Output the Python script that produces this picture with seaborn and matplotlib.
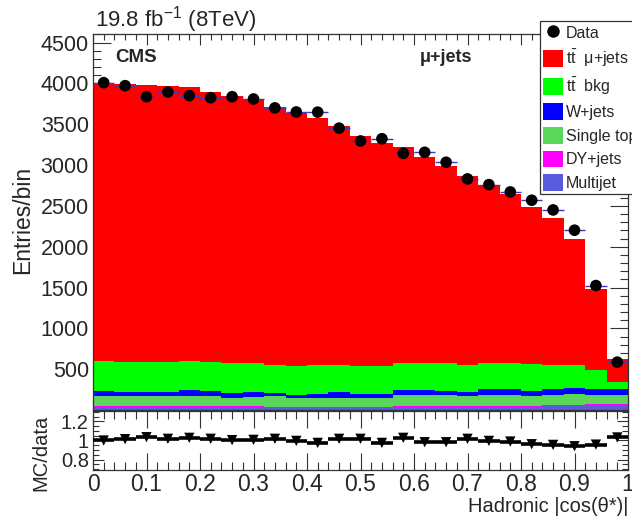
import numpy as np
import pandas as pd
import matplotlib
matplotlib.use("Agg")
import matplotlib.pyplot as plt
import seaborn as sns
from matplotlib.patches import Patch
from matplotlib.lines import Line2D
from matplotlib.ticker import MultipleLocator, FixedLocator

# ---------------- data ----------------
bin_edges = np.linspace(0.0, 1.0, 26)
data_counts = [4009, 3972, 3837, 3895, 3850, 3825, 3837, 3809, 3700, 3650,
               3648, 3452, 3295, 3322, 3144, 3156, 3034, 2830, 2760, 2671,
               2569, 2450, 2202, 1524, 586]
tt_mujets = [3407, 3413, 3398, 3386, 3350, 3303, 3266, 3238, 3155, 3099,
             3020, 2924, 2815, 2733, 2651, 2529, 2419, 2314, 2182, 2072,
             1926, 1803, 1542, 988, 276]
tt_bkg = [367, 367, 367, 367, 355, 359, 368, 359, 347, 355,
          355, 338, 347, 343, 335, 335, 347, 334, 318, 318,
          338, 297, 285, 236, 93]
w_jets = [53, 49, 49, 49, 73, 61, 61, 58, 40, 41,
          53, 70, 49, 53, 61, 61, 49, 45, 70, 70,
          53, 70, 70, 70, 70]
single_top = [126, 118, 118, 118, 126, 118, 99, 114, 131, 110,
              110, 110, 110, 110, 130, 130, 130, 126, 138, 138,
              124, 126, 133, 116, 109]
dy_jets = [8, 8, 8, 8, 8, 8, 8, 8, 10, 10,
           10, 10, 10, 10, 8, 8, 8, 8, 8, 8,
           10, 10, 10, 10, 12]
multijet = [40, 40, 40, 40, 40, 40, 38, 35, 25, 25,
            25, 25, 25, 25, 40, 40, 40, 40, 40, 40,
            40, 50, 55, 60, 65]
mc_over_data = [1.000, 1.014, 1.035, 1.018, 1.028, 1.018, 1.004, 1.007, 1.018, 0.996,
                0.975, 1.018, 1.018, 0.975, 1.028, 0.982, 0.982, 1.018, 0.996, 0.989,
                0.961, 0.954, 0.940, 0.957, 1.032]

proc_names = [r"$\mathrm{t\bar{t}}$  μ+jets", r"$\mathrm{t\bar{t}}$  bkg", "W+jets",
              "Single top", "DY+jets", "Multijet"]
proc_values = [tt_mujets, tt_bkg, w_jets, single_top, dy_jets, multijet]
proc_colors = ["#ff0000", "#00ff00", "#0000ff", "#5ad65a", "#ff00ff", "#5a5adc"]

x_ticks = [0, 0.1, 0.2, 0.3, 0.4, 0.5, 0.6, 0.7, 0.8, 0.9, 1]
x_ticklabels = ["0", "0.1", "0.2", "0.3", "0.4", "0.5", "0.6", "0.7", "0.8", "0.9", "1"]
y_ticks = [500, 1000, 1500, 2000, 2500, 3000, 3500, 4000, 4500]
r_ticks = [0.8, 1.0, 1.2]
r_ticklabels = ["0.8", "1", "1.2"]

# ---------------- style ----------------
sns.set_style("ticks")
plt.rcParams["font.family"] = ["Liberation Sans", "DejaVu Sans"]
plt.rcParams["mathtext.fontset"] = "custom"
plt.rcParams["mathtext.rm"] = "Liberation Sans"
plt.rcParams["mathtext.it"] = "Liberation Sans:italic"
plt.rcParams["mathtext.bf"] = "Liberation Sans:bold"

W, H = 632, 520
fig = plt.figure(figsize=(W / 100, H / 100), dpi=100)

def fx(px):
    return px / W

def fy(py):
    return 1 - py / H

ax = fig.add_axes([fx(93), fy(410), fx(628) - fx(93), fy(34) - fy(410)])
axr = fig.add_axes([fx(93), fy(470), fx(628) - fx(93), fy(411) - fy(470)])

centers = (bin_edges[:-1] + bin_edges[1:]) / 2
half_w = (bin_edges[1] - bin_edges[0]) / 2

rows = []
for name, vals in zip(proc_names, proc_values):
    for c, v in zip(centers, vals):
        rows.append({"x": float(c), "w": float(v), "proc": name})
df = pd.DataFrame(rows)

sns.histplot(data=df, x="x", weights="w", hue="proc", hue_order=proc_names,
             binwidth=0.04, binrange=(0.0, 1.0), multiple="stack",
             element="step", fill=True, alpha=1, linewidth=0,
             palette=dict(zip(proc_names, proc_colors)),
             legend=False, ax=ax)

ax.errorbar(centers, data_counts, xerr=half_w, fmt="none", ecolor="#3a3ac0",
            elinewidth=1.0, zorder=4)
sns.scatterplot(x=centers, y=data_counts, color="black", s=70, edgecolor="none",
                ax=ax, zorder=5)

ax.set_xlim(0, 1)
ax.set_ylim(0, 4605)
ax.set_xlabel("")
ax.set_ylabel("")
ax.xaxis.set_major_locator(FixedLocator(x_ticks))
ax.xaxis.set_minor_locator(MultipleLocator(0.02))
ax.set_yticks(y_ticks)
ax.yaxis.set_minor_locator(MultipleLocator(100))
ax.tick_params(axis="x", which="both", labelbottom=False)
ax.tick_params(which="both", direction="in", top=True, right=True, width=0.8,
               color="#333333")
ax.tick_params(axis="y", which="major", length=13, labelsize=15.5, pad=3)
ax.tick_params(axis="y", which="minor", length=6)
ax.tick_params(axis="x", which="major", length=8)
ax.tick_params(axis="x", which="minor", length=4.5)
for s in ax.spines.values():
    s.set_linewidth(0.9)
    s.set_color("#333333")

ax.text((115 - 93) / (628 - 93), (410 - 57) / (410 - 34), "CMS", transform=ax.transAxes,
        fontsize=13.5, fontweight="bold", ha="left", va="center")
ax.text((420 - 93) / (628 - 93), (410 - 57) / (410 - 34), "μ+jets", transform=ax.transAxes,
        fontsize=13, fontweight="bold", ha="left", va="center")

# ratio panel
axr.errorbar(centers, mc_over_data, xerr=half_w, fmt="none", ecolor="black",
             elinewidth=2.6, zorder=3)
sns.scatterplot(x=centers, y=mc_over_data, color="black", marker="v", s=55,
                edgecolor="none", ax=axr, zorder=4)
axr.set_xlim(0, 1)
axr.set_ylim(0.69, 1.31)
axr.set_xlabel("")
axr.set_ylabel("")
axr.set_xticks(x_ticks)
axr.set_xticklabels(x_ticklabels)
axr.xaxis.set_minor_locator(MultipleLocator(0.02))
axr.set_yticks(r_ticks)
axr.set_yticklabels(r_ticklabels)
axr.yaxis.set_minor_locator(MultipleLocator(0.05))
axr.tick_params(which="both", direction="in", top=True, right=True, width=0.8,
                color="#333333")
axr.tick_params(axis="x", which="major", length=12, labelsize=16.5, pad=2)
axr.tick_params(axis="x", which="minor", length=6)
axr.tick_params(axis="y", which="major", length=8, labelsize=14.5, pad=3)
axr.tick_params(axis="y", which="minor", length=4)
for s in axr.spines.values():
    s.set_linewidth(0.9)
    s.set_color("#333333")

# figure texts
fig.text(fx(95), fy(20), r"19.8 fb$^{-1}$ (8TeV)", fontsize=16, ha="left", va="center")
fig.text(fx(23), fy(220), "Entries/bin", rotation=90, fontsize=16.5, ha="center", va="center")
fig.text(fx(41), fy(453), "MC/data", rotation=90, fontsize=14.5, ha="center", va="center")
fig.text(fx(628), fy(507), "Hadronic |cos(θ*)|", fontsize=14.5, ha="right", va="center")

# legend
handles = [Line2D([0], [0], marker="o", color="none", markerfacecolor="black",
                  markeredgecolor="none", markersize=9, label="Data")]
for name, col in zip(proc_names, proc_colors):
    handles.append(Patch(facecolor=col, edgecolor="none", label=name))
leg = fig.legend(handles=handles, loc="upper left",
                 bbox_to_anchor=(fx(540), fy(21)), fontsize=11.5,
                 frameon=True, fancybox=False, borderpad=0.2,
                 labelspacing=0.42, handlelength=1.25, handleheight=1.25,
                 handletextpad=0.15, borderaxespad=0)
leg.get_frame().set_edgecolor("#333333")
leg.get_frame().set_linewidth(0.9)
leg.get_frame().set_alpha(1)

fig.savefig("out.png", dpi=100)
